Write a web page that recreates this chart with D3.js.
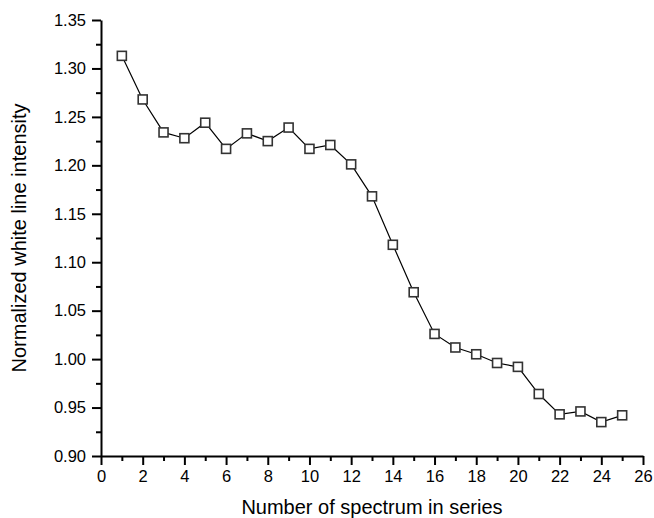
<!DOCTYPE html>
<html>
<head>
<meta charset="utf-8">
<script src="https://cdn.jsdelivr.net/npm/d3@7"></script>
<style>
  body { margin: 0; background: #fff; }
  .axis text { font-family: "Liberation Sans", Arial, sans-serif; font-size: 16.5px; fill: #000; }
  .axis path, .axis line { stroke: #000; stroke-width: 2; }
  .title { font-family: "Liberation Sans", Arial, sans-serif; font-size: 20px; fill: #000; }
</style>
</head>
<body>
<div id="chart"></div>
<script>
// data
const spectrumNo = d3.range(1, 26);
const intensity = [1.313, 1.268, 1.234, 1.228, 1.244, 1.217, 1.233, 1.225, 1.239, 1.217,
                   1.221, 1.201, 1.168, 1.118, 1.069, 1.026, 1.012, 1.005, 0.996, 0.992,
                   0.964, 0.943, 0.946, 0.935, 0.942];
const xTicks = d3.range(0, 27, 2);
const yTicks = [0.90, 0.95, 1.00, 1.05, 1.10, 1.15, 1.20, 1.25, 1.30, 1.35];

const width = 654, height = 518;
const margin = {t: 20, r: 11, b: 62, l: 101};
const w = width - margin.l - margin.r;
const h = height - margin.t - margin.b;

const data = spectrumNo.map((n, i) => ({n: n, v: intensity[i]}));

const svg = d3.select('#chart').append('svg')
    .attr('width', width)
    .attr('height', height);

const plot = svg.append('g')
    .attr('transform', `translate(${margin.l},${margin.t})`);

// scales
const scaleX = d3.scaleLinear().domain([0, 26]).range([0, w]);
const scaleY = d3.scaleLinear().domain([0.90, 1.35]).range([h, 0]);

// minor ticks first (drawn as separate axes without labels)
plot.append('g')
    .attr('class', 'axis')
    .attr('transform', `translate(0,${h})`)
    .call(d3.axisBottom(scaleX).tickValues(d3.range(1, 26, 2)).tickSize(5).tickFormat(''))
    .call(g => g.select('.domain').remove());
plot.append('g')
    .attr('class', 'axis')
    .call(d3.axisLeft(scaleY).tickValues(d3.range(0.925, 1.35, 0.05)).tickSize(5).tickFormat(''))
    .call(g => g.select('.domain').remove());

// major axes
const axisX = d3.axisBottom(scaleX)
    .tickValues(xTicks)
    .tickSize(9)
    .tickSizeOuter(0)
    .tickPadding(5)
    .tickFormat(d3.format('d'));
plot.append('g')
    .attr('class', 'axis')
    .attr('transform', `translate(0,${h})`)
    .call(axisX);

const axisY = d3.axisLeft(scaleY)
    .tickValues(yTicks)
    .tickSize(9)
    .tickSizeOuter(0)
    .tickPadding(6)
    .tickFormat(d3.format('.2f'));
plot.append('g')
    .attr('class', 'axis')
    .call(axisY);

// line
const line = d3.line()
    .x(d => scaleX(d.n))
    .y(d => scaleY(d.v));

plot.append('path')
    .datum(data)
    .attr('d', line)
    .style('fill', 'none')
    .style('stroke', '#000')
    .style('stroke-width', 1.2);

// square markers
const s = 9;
plot.selectAll('.marker')
    .data(data)
    .enter()
    .append('rect')
    .attr('class', 'marker')
    .attr('x', d => scaleX(d.n) - s / 2)
    .attr('y', d => scaleY(d.v) - s / 2)
    .attr('width', s)
    .attr('height', s)
    .style('fill', '#fff')
    .style('stroke', '#333')
    .style('stroke-width', 1.6);

// axis titles
svg.append('text')
    .attr('class', 'title')
    .attr('text-anchor', 'middle')
    .attr('x', margin.l + w / 2)
    .attr('y', 514)
    .text('Number of spectrum in series');

svg.append('text')
    .attr('class', 'title')
    .attr('text-anchor', 'middle')
    .attr('transform', `translate(26,${margin.t + h / 2}) rotate(-90)`)
    .text('Normalized white line intensity');
</script>
</body>
</html>
